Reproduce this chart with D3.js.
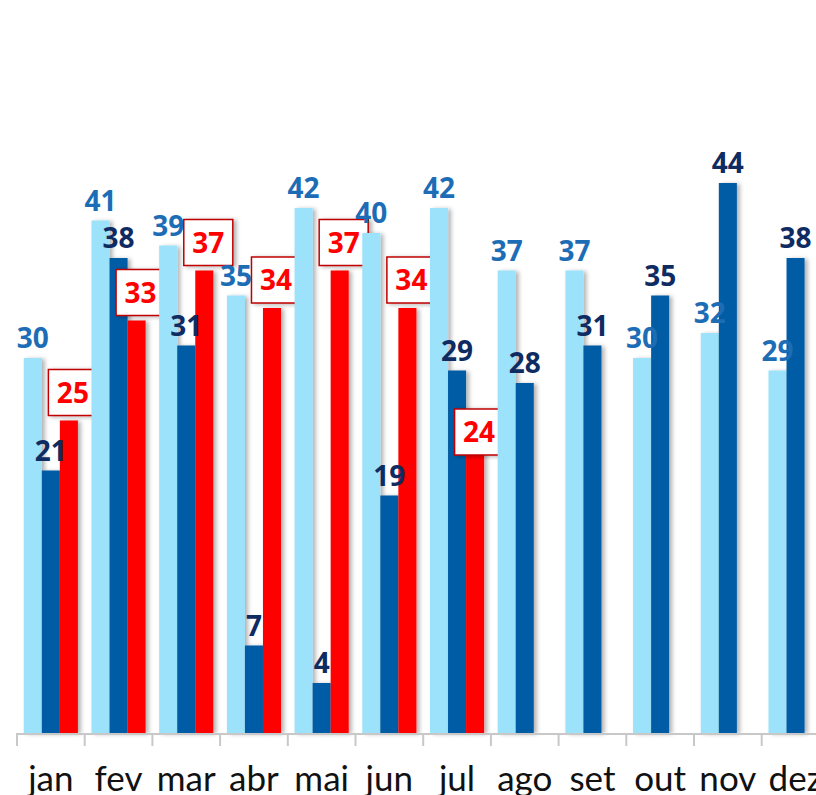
<!DOCTYPE html>
<html>
<head>
<meta charset="utf-8">
<script src="https://cdn.jsdelivr.net/npm/d3@7"></script>
<style>
  body { margin: 0; background: #fff; }
  svg { display: block; }
</style>
</head>
<body>
<div id="chart"></div>
<script>
// data
var months = ["jan", "fev", "mar", "abr", "mai", "jun", "jul", "ago", "set", "out", "nov", "dez"];
var lightValues = [30, 41, 39, 35, 42, 40, 42, 37, 37, 30, 32, 29];
var darkValues = [21, 38, 31, 7, 4, 19, 29, 28, 31, 35, 44, 38];
var redValues = [25, 33, 37, 34, 37, 34, 24, null, null, null, null, null];

var svgWidth = 816;
var svgHeight = 795;
var baseY = 733;

var svg = d3.select("#chart")
    .append("svg")
    .attr("width", svgWidth)
    .attr("height", svgHeight);

// soft shadow like the excel bars
var defs = svg.append("defs");
defs.append("filter")
    .attr("id", "shadow")
    .attr("x", "-30%").attr("y", "-10%")
    .attr("width", "170%").attr("height", "120%")
    .append("feDropShadow")
    .attr("dx", 3).attr("dy", 1)
    .attr("stdDeviation", 2)
    .attr("flood-color", "#000")
    .attr("flood-opacity", 0.3);

var x0 = d3.scaleBand()
    .domain(months)
    .range([17, 17 + 12 * 67.7])
    .padding(0);

var series = ["light", "dark", "red"];
var x1 = d3.scaleBand()
    .domain(series)
    .range([6.8, x0.bandwidth() - 6.8]);

var y = d3.scaleLinear()
    .domain([0, 44])
    .range([baseY, 183]);

var colors = { light: "#9BE2FA", dark: "#005BA4", red: "#FF0000" };
var labelColors = { light: "#1C6DB6", dark: "#0E2B62" };

var rows = months.map(function (m, i) {
    return { month: m, light: lightValues[i], dark: darkValues[i], red: redValues[i] };
});

var groups = svg.append("g")
    .selectAll("g")
    .data(rows)
    .enter()
    .append("g")
    .attr("transform", d => `translate(${x0(d.month)},0)`);

groups.selectAll("rect")
    .data(d => series.filter(s => d[s] != null).map(s => ({ key: s, value: d[s] })))
    .enter()
    .append("rect")
    .attr("x", d => x1(d.key))
    .attr("y", d => y(d.value))
    .attr("width", x1.bandwidth())
    .attr("height", d => baseY - y(d.value))
    .attr("fill", d => colors[d.key])
    .attr("filter", "url(#shadow)");

// axis line + boundary ticks
var axis = svg.append("g");
axis.append("line")
    .attr("x1", x0.range()[0]).attr("x2", svgWidth)
    .attr("y1", baseY + 1).attr("y2", baseY + 1)
    .attr("stroke", "#C8C8C8").attr("stroke-width", 2);
axis.selectAll(".tick")
    .data(months)
    .enter()
    .append("line")
    .attr("x1", d => x0(d)).attr("x2", d => x0(d))
    .attr("y1", baseY).attr("y2", baseY + 13)
    .attr("stroke", "#C8C8C8").attr("stroke-width", 2);

axis.selectAll(".mlabel")
    .data(months)
    .enter()
    .append("text")
    .attr("x", d => x0(d) + x0.bandwidth() / 2)
    .attr("y", 791)
    .attr("text-anchor", "middle")
    .style("font-family", "Lato, 'Open Sans', sans-serif")
    .style("font-size", "35px")
    .attr("fill", "#111")
    .text(d => d);

var labelFont = "'Open Sans', Lato, sans-serif";

// light & dark value labels
["light", "dark"].forEach(function (s) {
    groups.append("text")
        .attr("x", d => x1(s) + x1.bandwidth() / 2)
        .attr("y", d => y(d[s]) - 10)
        .attr("text-anchor", "middle")
        .style("font-family", labelFont)
        .style("font-weight", "bold")
        .style("font-size", "28px")
        .attr("fill", labelColors[s])
        .text(d => d[s]);
});

// boxed red labels
var boxW = 49, boxH = 46;
var redNudge = { jul: 27 };
var redLabels = groups.filter(d => d.red != null)
    .append("g")
    .attr("transform", function (d) {
        var cx = x1("red") + x1.bandwidth() / 2 + 4;
        var bottom = y(d.red) - 5 + (redNudge[d.month] || 0);
        return `translate(${cx},${bottom - boxH / 2})`;
    });

redLabels.append("rect")
    .attr("x", -boxW / 2).attr("y", -boxH / 2)
    .attr("width", boxW).attr("height", boxH)
    .attr("fill", "#fff")
    .attr("stroke", "#C00000")
    .attr("stroke-width", 1.5)
    .attr("filter", "url(#shadow)");

redLabels.append("text")
    .attr("x", 0)
    .attr("y", 10)
    .attr("text-anchor", "middle")
    .style("font-family", labelFont)
    .style("font-weight", "bold")
    .style("font-size", "28px")
    .attr("fill", "#FF0000")
    .text(d => d.red);
</script>
</body>
</html>
